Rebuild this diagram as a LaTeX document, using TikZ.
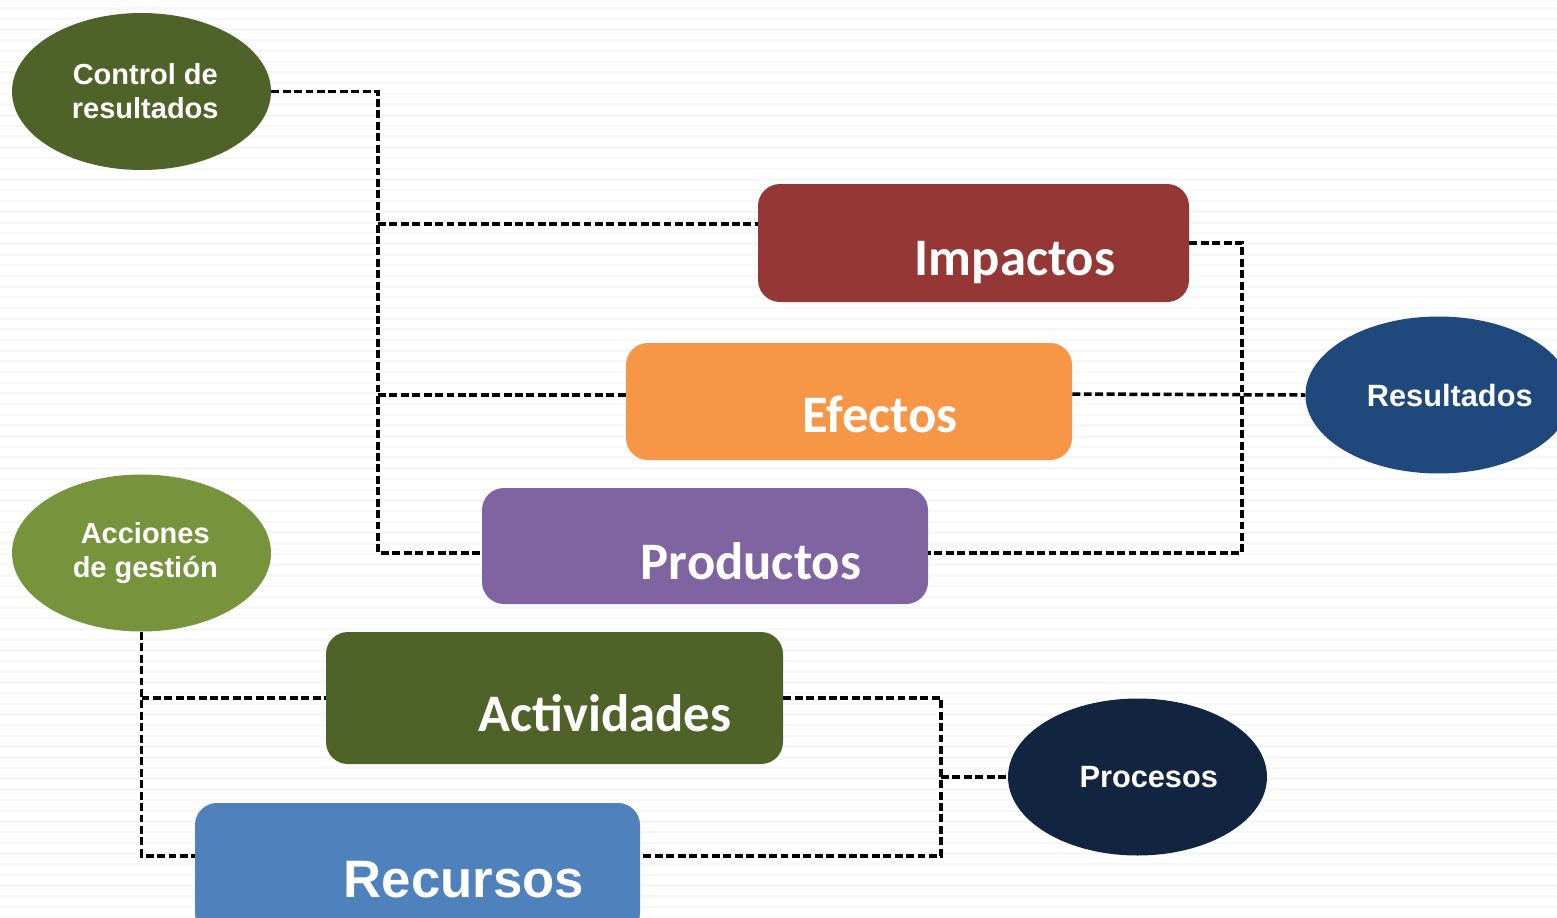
\documentclass[tikz,border=0pt]{standalone}
\usepackage{fontspec}
\setmainfont{Liberation Sans}
\newfontfamily\boxfont{Carlito}
\usetikzlibrary{shapes.geometric}
\usetikzlibrary{positioning}

\definecolor{ctrlgreen}{HTML}{4F6228}
\definecolor{accgreen}{HTML}{77933C}
\definecolor{resblue}{HTML}{1F497D}
\definecolor{procblue}{HTML}{112540}
\definecolor{impred}{HTML}{953735}
\definecolor{efforange}{HTML}{F79646}
\definecolor{prodviolet}{HTML}{8064A2}
\definecolor{recblue}{HTML}{4F81BD}

\begin{document}
\begin{tikzpicture}[x=0.02cm, y=-0.02cm,
  elli/.style={ellipse, minimum width=5.18cm, minimum height=3.14cm, inner sep=0pt, text=white, align=center},
  rbox/.style={rounded corners=0.44cm, inner sep=0pt},
  btext/.style={text=white, anchor=base, font=\boxfont\bfseries\fontsize{30}{30}\selectfont},
  dline/.style={black, line width=2pt, dash pattern=on 4.5pt off 2pt}]

  \useasboundingbox (0,0) rectangle (1557,917);

	%background
  \fill[white] (0,0) rectangle (1557,917);
    \foreach \k in {0,...,85}{
         \fill[black!3] (0,7+10.7*\k) rectangle (1557,9.5+10.7*\k);
    }

	%ellipses
    \foreach \x/\y/\col/\txt/\name in {141.5/91.5/ctrlgreen/{\hspace*{0.15cm}Control de\\\hspace*{0.15cm}resultados}/ctrl, 141.5/553/accgreen/{\hspace*{0.15cm}Acciones\\\hspace*{0.15cm}de gestión}/acc}{
         \node[elli, fill=\col, font=\bfseries\fontsize{16.5}{19.3}\selectfont] (\name) at (\x,\y) {\txt};
    }
    \foreach \x/\y/\col/\txt/\name in {1438.5/395/resblue/Resultados/res, 1137.5/777/procblue/Procesos/proc}{
         \node[elli, fill=\col, font=\bfseries\fontsize{17.5}{20}\selectfont] (\name) at (\x,\y) {\hspace{0.45cm}\txt};
    }

	%boxes
    \foreach \x/\y/\w/\h/\col/\name in {973.5/243/431/118/impred/imp, 849/401.5/446/117/efforange/eff, 705/546/446/116/prodviolet/prod, 554.5/698/457/132/ctrlgreen/act, 417.5/869/445/132/recblue/rec}{
         \node[rbox, fill=\col, minimum width=\w*0.02cm, minimum height=\h*0.02cm] (\name) at (\x,\y) {};
    }
    \foreach \x/\y/\txt/\name in {1015/275/Impactos/impT, 880/432/Efectos/effT, 751/579/Productos/prodT, 605/731/Actividades/actT}{
         \node[btext] (\name) at (\x,\y) {\txt};
    }
  \node[btext, font=\bfseries\fontsize{30}{30}\selectfont] (recT) at (464,897) {Recursos};

	%junctions
  \coordinate (jC) at (378,91.5);
  \coordinate (jI) at (378,224);
  \coordinate (jE) at (378,395);
  \coordinate (jP) at (378,553);
  \coordinate (rI) at (1242,243);
  \coordinate (rE) at (1242,394);
  \coordinate (rP) at (1242,553);
  \coordinate (aA) at (141.5,698);
  \coordinate (aR) at (141.5,856);
  \coordinate (pA) at (941,698);
  \coordinate (pP) at (941,777);
  \coordinate (pR) at (941,856);

	%connectors
  \draw[dline] (ctrl.east) -- (jC) -- (jP) -- (jP -| prod.west);
  \draw[dline] (jI) -- (jI -| imp.west);
  \draw[dline] (jE) -- (jE -| eff.west);
  \draw[dline] (imp.east) -- (rI) -- (rP) -- (rP -| prod.east);
  \draw[dline] (rE -| eff.east) -- (res.west);
  \draw[dline] (acc.south) -- (aR) -- (aR -| rec.west);
  \draw[dline] (aA) -- (act.west);
  \draw[dline] (act.east) -- (pA) -- (pR) -- (pR -| rec.east);
  \draw[dline] (pP) -- (proc.west);

\end{tikzpicture}
\end{document}
